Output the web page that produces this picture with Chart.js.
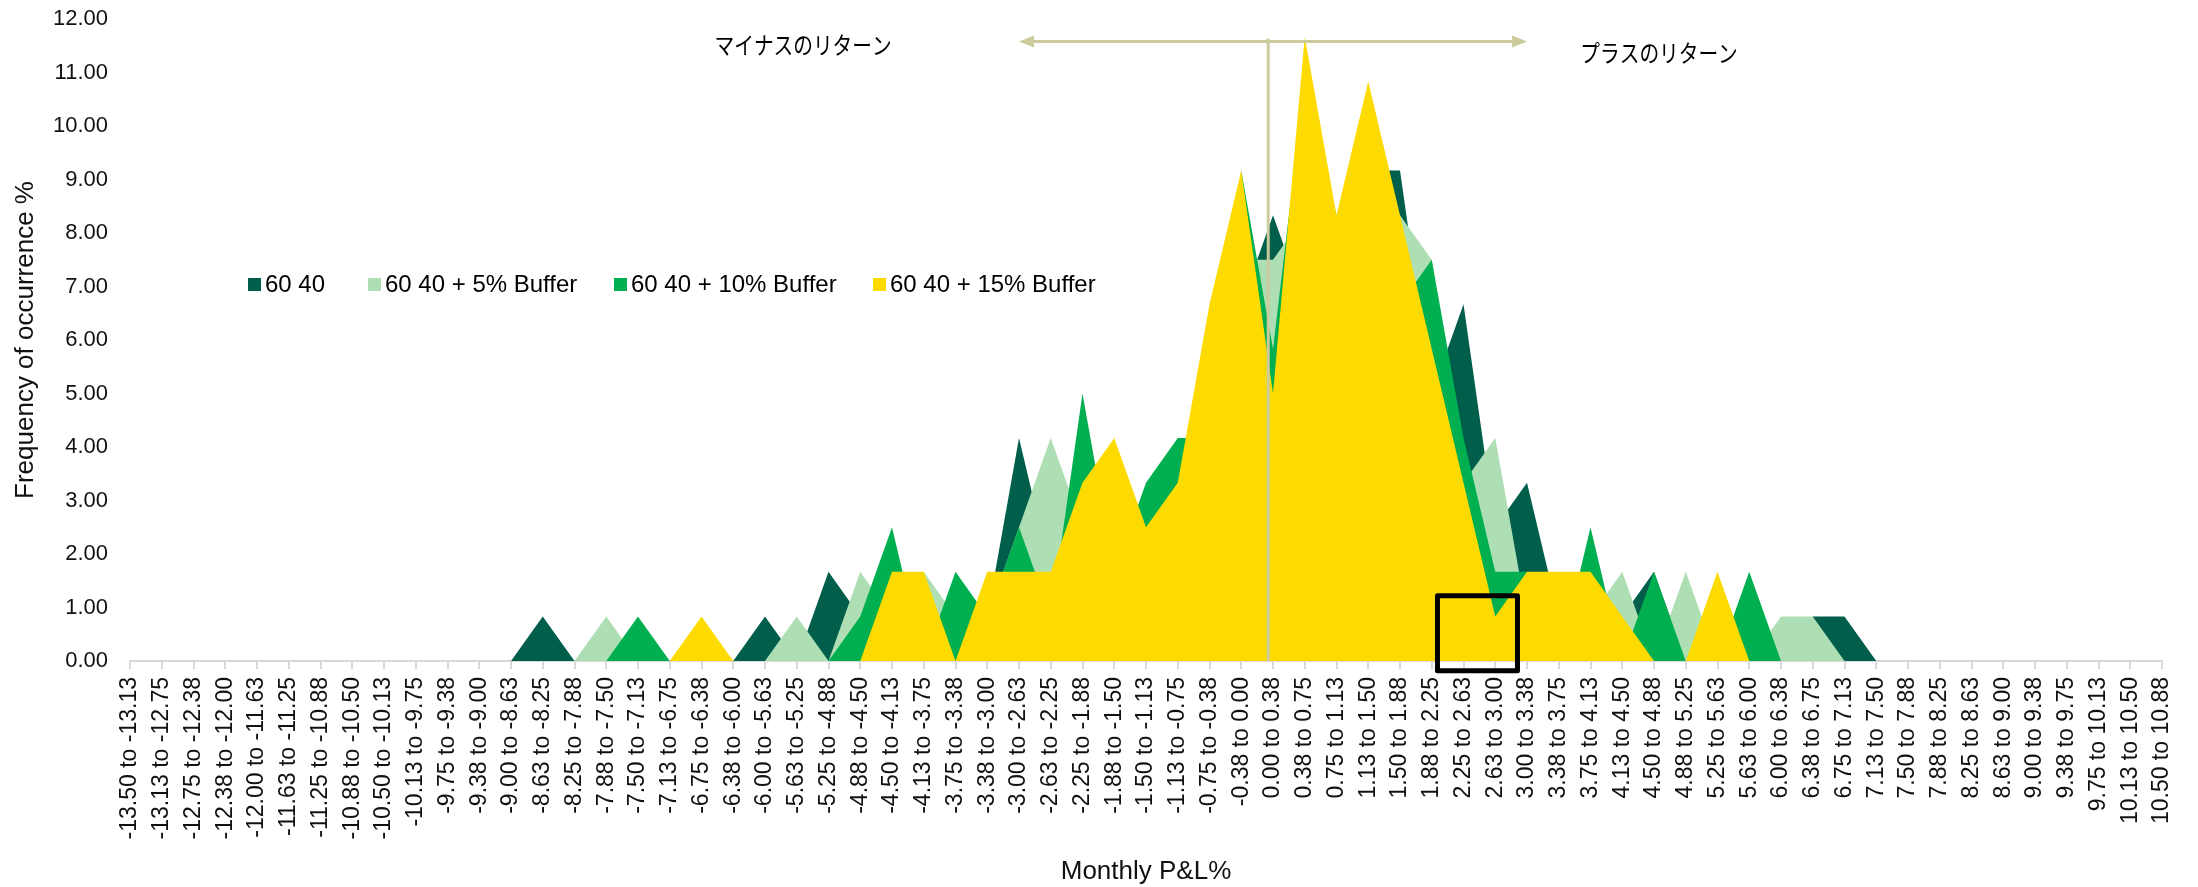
<!DOCTYPE html>
<html>
<head>
<meta charset="utf-8">
<script src="https://cdn.jsdelivr.net/npm/chart.js@4/dist/chart.umd.min.js"></script>
<style>
  html, body { margin: 0; padding: 0; background: #ffffff; }
  #wrap { width: 2198px; height: 887px; position: relative; }
</style>
</head>
<body>
<div id="wrap"><canvas id="chart"></canvas></div>
<script>
// ---------------- data ----------------
const categories = [
  "-13.50 to -13.13", "-13.13 to -12.75", "-12.75 to -12.38", "-12.38 to -12.00", "-12.00 to -11.63",
  "-11.63 to -11.25", "-11.25 to -10.88", "-10.88 to -10.50", "-10.50 to -10.13", "-10.13 to -9.75",
  "-9.75 to -9.38", "-9.38 to -9.00", "-9.00 to -8.63", "-8.63 to -8.25", "-8.25 to -7.88",
  "-7.88 to -7.50", "-7.50 to -7.13", "-7.13 to -6.75", "-6.75 to -6.38", "-6.38 to -6.00",
  "-6.00 to -5.63", "-5.63 to -5.25", "-5.25 to -4.88", "-4.88 to -4.50", "-4.50 to -4.13",
  "-4.13 to -3.75", "-3.75 to -3.38", "-3.38 to -3.00", "-3.00 to -2.63", "-2.63 to -2.25",
  "-2.25 to -1.88", "-1.88 to -1.50", "-1.50 to -1.13", "-1.13 to -0.75", "-0.75 to -0.38",
  "-0.38 to 0.00", "0.00 to 0.38", "0.38 to 0.75", "0.75 to 1.13", "1.13 to 1.50",
  "1.50 to 1.88", "1.88 to 2.25", "2.25 to 2.63", "2.63 to 3.00", "3.00 to 3.38",
  "3.38 to 3.75", "3.75 to 4.13", "4.13 to 4.50", "4.50 to 4.88", "4.88 to 5.25",
  "5.25 to 5.63", "5.63 to 6.00", "6.00 to 6.38", "6.38 to 6.75", "6.75 to 7.13",
  "7.13 to 7.50", "7.50 to 7.88", "7.88 to 8.25", "8.25 to 8.63", "8.63 to 9.00",
  "9.00 to 9.38", "9.38 to 9.75", "9.75 to 10.13", "10.13 to 10.50", "10.50 to 10.88"
];

const seriesNames = ["60 40", "60 40 + 5% Buffer", "60 40 + 10% Buffer", "60 40 + 15% Buffer"];

const values6040 = [
  0, 0, 0, 0, 0, 0, 0, 0, 0, 0,
  0, 0, 0, 0.83, 0, 0, 0, 0, 0, 0,
  0.83, 0, 1.67, 0.83, 1.67, 0.83, 0.83, 0.83, 4.17, 1.67,
  2.50, 2.50, 2.50, 3.33, 5.83, 6.67, 8.33, 6.67, 5.83, 9.17,
  9.17, 5.00, 6.67, 2.50, 3.33, 0.83, 0.83, 0.83, 1.67, 0,
  0, 0, 0, 0.83, 0.83, 0, 0, 0, 0, 0,
  0, 0, 0, 0, 0
];
const valuesBuffer5 = [
  0, 0, 0, 0, 0, 0, 0, 0, 0, 0,
  0, 0, 0, 0, 0, 0.83, 0, 0, 0, 0,
  0, 0.83, 0, 1.67, 0.83, 1.67, 0.83, 0.83, 2.50, 4.17,
  2.50, 2.50, 2.50, 3.33, 4.17, 7.50, 7.50, 8.33, 8.33, 8.33,
  8.33, 7.50, 3.33, 4.17, 0.83, 0.83, 0.83, 1.67, 0, 1.67,
  0, 0, 0.83, 0.83, 0, 0, 0, 0, 0, 0,
  0, 0, 0, 0, 0
];
const valuesBuffer10 = [
  0, 0, 0, 0, 0, 0, 0, 0, 0, 0,
  0, 0, 0, 0, 0, 0, 0.83, 0, 0, 0,
  0, 0, 0, 0.83, 2.50, 0, 1.67, 0.83, 2.50, 0.83,
  5.00, 1.67, 3.33, 4.17, 4.17, 9.17, 5.83, 10.83, 8.33, 10.00,
  6.67, 7.50, 4.17, 1.67, 1.67, 0, 2.50, 0, 1.67, 0,
  0, 1.67, 0, 0, 0, 0, 0, 0, 0, 0,
  0, 0, 0, 0, 0
];
const valuesBuffer15 = [
  0, 0, 0, 0, 0, 0, 0, 0, 0, 0,
  0, 0, 0, 0, 0, 0, 0, 0, 0.83, 0,
  0, 0, 0, 0, 1.67, 1.67, 0, 1.67, 1.67, 1.67,
  3.33, 4.17, 2.50, 3.33, 6.67, 9.17, 5.00, 11.67, 8.33, 10.83,
  8.33, 5.83, 3.33, 0.83, 1.67, 1.67, 1.67, 0.83, 0, 0,
  1.67, 0, 0, 0, 0, 0, 0, 0, 0, 0,
  0, 0, 0, 0, 0
];

const yTickValues = [0, 1, 2, 3, 4, 5, 6, 7, 8, 9, 10, 11, 12];
const leftLabel = "マイナスのリターン";
const rightLabel = "プラスのリターン";
const xTitle = "Monthly P&L%";
const yTitle = "Frequency of occurrence %";

// ---------------- styles ----------------
const colors = ["#005e4b", "#aedfb4", "#00af50", "#fedb00"];
const FONT = '"Liberation Sans", Arial, Helvetica, sans-serif';
Chart.defaults.font.family = FONT;
Chart.defaults.color = "#111111";

const seriesValues = [values6040, valuesBuffer5, valuesBuffer10, valuesBuffer15];
const datasets = seriesValues.map((vals, i) => ({
  label: seriesNames[i],
  data: vals,
  backgroundColor: colors[i],
  borderColor: colors[i],
  borderWidth: 0,
  pointRadius: 0,
  pointHoverRadius: 0,
  tension: 0,
  fill: "origin",
  order: 3 - i          // 60 40 at the back, 15% buffer in front
}));

// legend drawn inside the plot area (like the original)
const legendBoxX = [248, 368, 614, 873];
const legendPlugin = {
  id: "insideLegend",
  afterDraw(chart) {
    const ctx = chart.ctx;
    ctx.save();
    ctx.font = "24px " + FONT;
    ctx.textBaseline = "alphabetic";
    ctx.textAlign = "left";
    chart.data.datasets.forEach((ds, i) => {
      const x = legendBoxX[i];
      ctx.fillStyle = ds.backgroundColor;
      ctx.fillRect(x, 278, 13, 13);
      ctx.fillStyle = "#000000";
      ctx.fillText(ds.label, x + 17, 292);
    });
    ctx.restore();
  }
};

// annotations: zero line, arrow, labels, highlight box
const anno = {
  zeroIdx: 35.85, topVal: 11.63, arrowVal: 11.58, arrowFrom: 28, arrowTo: 44,
  leftText: { idx: 21.2, val: 11.52 }, rightText: { idx: 48.16, val: 11.37 },
  box: { x0: 41.18, x1: 43.7, v0: 1.22, v1: -0.18 }
};
const annotationPlugin = {
  id: "annotations",
  afterDatasetsDraw(chart) {
    const ctx = chart.ctx;
    const xs = chart.scales.x, ys = chart.scales.y;
    const lineColor = "#cbcb9d";
    ctx.save();
    // vertical zero line
    const vx = xs.getPixelForValue(anno.zeroIdx);
    ctx.strokeStyle = lineColor;
    ctx.lineWidth = 3;
    ctx.beginPath();
    ctx.moveTo(vx, ys.getPixelForValue(anno.topVal));
    ctx.lineTo(vx, ys.getPixelForValue(0));
    ctx.stroke();
    // double arrow
    const ay = ys.getPixelForValue(anno.arrowVal);
    const ax0 = xs.getPixelForValue(anno.arrowFrom);
    const ax1 = xs.getPixelForValue(anno.arrowTo);
    const head = 15, half = 6;
    ctx.beginPath();
    ctx.moveTo(ax0 + head - 2, ay);
    ctx.lineTo(ax1 - head + 2, ay);
    ctx.stroke();
    ctx.fillStyle = lineColor;
    ctx.beginPath();
    ctx.moveTo(ax0, ay); ctx.lineTo(ax0 + head, ay - half); ctx.lineTo(ax0 + head, ay + half); ctx.closePath();
    ctx.fill();
    ctx.beginPath();
    ctx.moveTo(ax1, ay); ctx.lineTo(ax1 - head, ay - half); ctx.lineTo(ax1 - head, ay + half); ctx.closePath();
    ctx.fill();
    // Japanese labels (condensed)
    const drawLabel = (text, pos) => {
      ctx.save();
      ctx.translate(xs.getPixelForValue(pos.idx), ys.getPixelForValue(pos.val));
      ctx.scale(0.82, 1);
      ctx.font = '24px "Noto Sans CJK JP", sans-serif';
      ctx.fillStyle = "#000000";
      ctx.textAlign = "center";
      ctx.textBaseline = "middle";
      ctx.fillText(text, 0, 0);
      ctx.restore();
    };
    drawLabel(leftLabel, anno.leftText);
    drawLabel(rightLabel, anno.rightText);
    // highlight box
    const bx0 = xs.getPixelForValue(anno.box.x0), bx1 = xs.getPixelForValue(anno.box.x1);
    const by0 = ys.getPixelForValue(anno.box.v0), by1 = ys.getPixelForValue(anno.box.v1);
    ctx.strokeStyle = "#000000";
    ctx.lineWidth = 5;
    ctx.lineJoin = "round";
    ctx.strokeRect(bx0, by0, bx1 - bx0, by1 - by0);
    ctx.restore();
  }
};

new Chart(document.getElementById("chart"), {
  type: "line",
  data: { labels: categories, datasets },
  options: {
    responsive: true,
    maintainAspectRatio: false,
    animation: false,
    events: [],
    layout: { padding: { top: 19, right: 36, bottom: 0, left: 0 } },
    plugins: {
      legend: { display: false },
      tooltip: { enabled: false }
    },
    scales: {
      x: {
        type: "category",
        offset: false,
        afterFit: (s) => { s.height = 226; },
        grid: {
          display: true,
          drawOnChartArea: false,
          drawTicks: true,
          tickLength: 8,
          color: "#d9d9d9",
          lineWidth: 2
        },
        border: { display: true, color: "#d9d9d9", width: 2 },
        ticks: {
          autoSkip: false,
          maxRotation: 90,
          minRotation: 90,
          padding: 8,
          color: "#111111",
          font: { size: 23 }
        },
        title: {
          display: true,
          text: xTitle,
          color: "#111111",
          font: { size: 26 },
          padding: { top: 0, bottom: 0 }
        }
      },
      y: {
        min: 0,
        max: 12,
        afterFit: (s) => { s.width = 130; s.paddingTop = 0; s.paddingBottom = 0; },
        afterBuildTicks: (s) => { s.ticks = yTickValues.map(v => ({ value: v })); },
        grid: { display: false, drawTicks: false, tickLength: 0 },
        border: { display: false },
        ticks: {
          padding: 22,
          color: "#111111",
          font: { size: 22 },
          callback: (v) => Number(v).toFixed(2)
        },
        title: {
          display: true,
          text: yTitle,
          color: "#111111",
          font: { size: 26 },
          padding: { top: 10.4, bottom: 0 }
        }
      }
    }
  },
  plugins: [annotationPlugin, legendPlugin]
});
</script>
</body>
</html>
